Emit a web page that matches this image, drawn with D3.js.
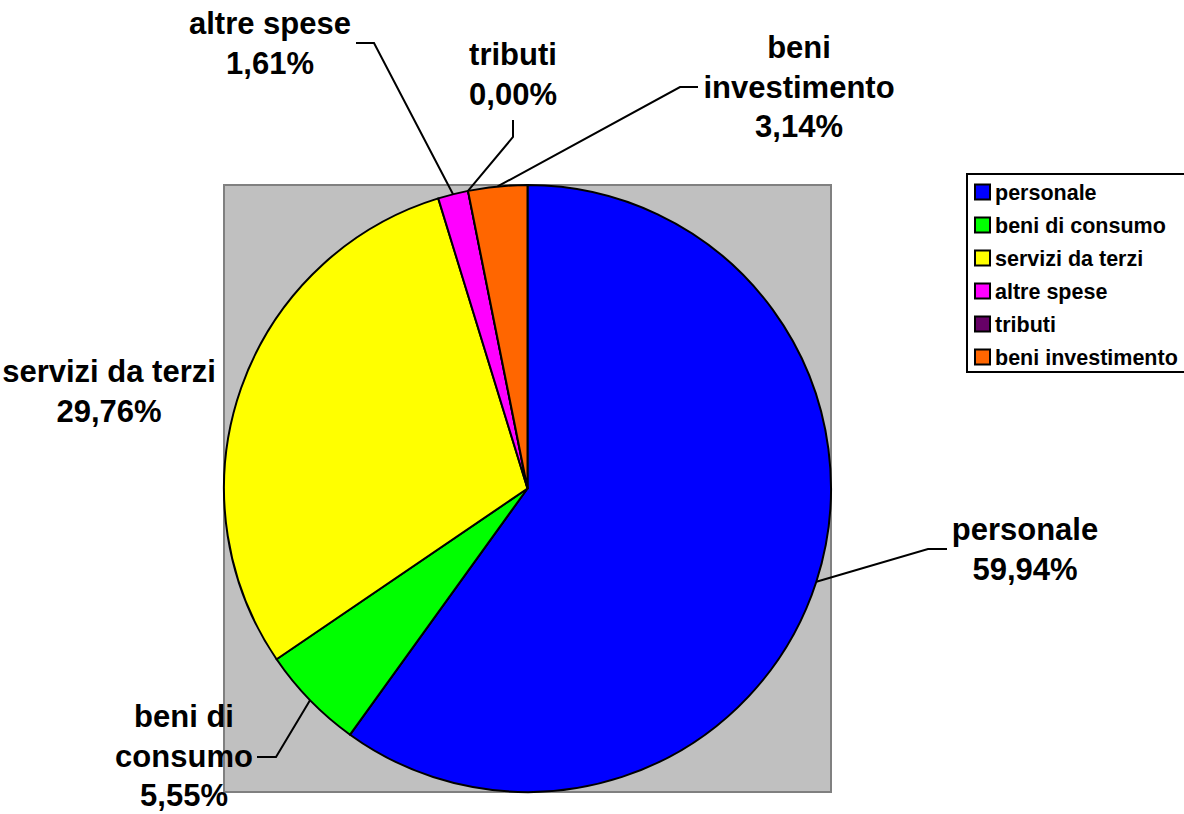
<!DOCTYPE html>
<html>
<head>
<meta charset="utf-8">
<script src="https://cdn.jsdelivr.net/npm/d3@7"></script>
<style>
  body { margin: 0; background: #fff; }
  svg { display: block; }
  text { font-family: "Liberation Sans", Arial, sans-serif; font-weight: 700; }
</style>
</head>
<body>
<div id="chart"></div>
<script>
// data
const CATEGORIES = ["personale", "beni di consumo", "servizi da terzi", "altre spese", "tributi", "beni investimento"];
const VALUES = [59.94, 5.55, 29.76, 1.61, 0.00, 3.14];
const COLORS = ["#0000FF", "#00FF00", "#FFFF00", "#FF00FF", "#660066", "#FF6600"];
const LABEL_LINES = [["personale"], ["beni di", "consumo"], ["servizi da terzi"], ["altre spese"], ["tributi"], ["beni", "investimento"]];

// frame
const FRAME_WIDTH = 1184;
const FRAME_HEIGHT = 814;
const PLOT = {left: 224, top: 185, width: 607, height: 607};
const CX = PLOT.left + PLOT.width / 2;
const CY = PLOT.top + PLOT.height / 2;
const RADIUS = 303.5;

// label anchors: center x, first baseline y, leader [pts] (end on pie is computed)
const LABEL_POS = [
  {x: 1025, y: 540, leader: [[947, 549], [928, 549]]},
  {x: 184, y: 727, leader: [[257, 757], [276, 757]]},
  {x: 109, y: 382, leader: null},
  {x: 270, y: 34, leader: [[356, 43], [374, 43]]},
  {x: 513, y: 65, leader: [[513, 120], [513, 137]]},
  {x: 799, y: 58, leader: [[698, 87], [680, 87]]}
];
const LINE_H = 39.5;

const FRAME = d3.select("#chart")
  .append("svg")
    .attr("width", FRAME_WIDTH)
    .attr("height", FRAME_HEIGHT);

// grey plot area
FRAME.append("rect")
  .attr("x", PLOT.left)
  .attr("y", PLOT.top)
  .attr("width", PLOT.width)
  .attr("height", PLOT.height)
  .attr("fill", "#C0C0C0")
  .attr("stroke", "#808080")
  .attr("stroke-width", 2);

const data = CATEGORIES.map((c, i) => ({name: c, value: VALUES[i], color: COLORS[i], lines: LABEL_LINES[i], pos: LABEL_POS[i]}));

const pie = d3.pie().sort(null).value(d => d.value);
const arc = d3.arc().innerRadius(0).outerRadius(RADIUS);
const arcs = pie(data);

const g = FRAME.append("g").attr("transform", "translate(" + CX + "," + CY + ")");

g.selectAll("path.slice")
  .data(arcs)
  .enter()
  .append("path")
    .attr("class", "slice")
    .attr("d", arc)
    .attr("fill", d => d.data.color)
    .attr("stroke", "#000")
    .attr("stroke-width", 2)
    .attr("stroke-linejoin", "round");

// leader lines
arcs.forEach((a) => {
  const p = a.data.pos;
  if (!p.leader) return;
  const mid = (a.startAngle + a.endAngle) / 2;
  const edge = [CX + RADIUS * Math.sin(mid), CY - RADIUS * Math.cos(mid)];
  const pts = p.leader.concat([edge]);
  FRAME.append("path")
    .attr("d", d3.line()(pts))
    .attr("fill", "none")
    .attr("stroke", "#000")
    .attr("stroke-width", 2);
});

// data labels
const fmt = v => v.toFixed(2).replace(".", ",") + "%";
arcs.forEach((a) => {
  const p = a.data.pos;
  const lines = a.data.lines.concat([fmt(a.data.value)]);
  const t = FRAME.append("text")
    .attr("text-anchor", "middle")
    .attr("font-family", "Liberation Sans, Arial, sans-serif")
    .attr("font-weight", "bold")
    .attr("font-size", "31px")
    .attr("fill", "#000");
  lines.forEach((l, i) => {
    t.append("tspan")
      .attr("x", p.x)
      .attr("y", p.y + i * LINE_H)
      .text(l);
  });
});

// legend
const LEGEND = {x: 967, y: 174, width: 222, height: 198};
FRAME.append("rect")
  .attr("x", LEGEND.x)
  .attr("y", LEGEND.y)
  .attr("width", LEGEND.width)
  .attr("height", LEGEND.height)
  .attr("fill", "#fff")
  .attr("stroke", "#000")
  .attr("stroke-width", 2);

const rowY = d3.scaleBand()
  .domain(CATEGORIES)
  .range([LEGEND.y + 2, LEGEND.y + LEGEND.height + 2]);

const rows = FRAME.selectAll("g.leg")
  .data(data)
  .enter()
  .append("g")
    .attr("class", "leg")
    .attr("transform", d => "translate(0," + (rowY(d.name) + rowY.bandwidth() / 2) + ")");

rows.append("rect")
  .attr("x", 975)
  .attr("y", -8)
  .attr("width", 15)
  .attr("height", 15)
  .attr("fill", d => d.color)
  .attr("stroke", "#000")
  .attr("stroke-width", 2);

rows.append("text")
  .attr("x", 995)
  .attr("y", 7)
  .attr("font-family", "Liberation Sans, Arial, sans-serif")
  .attr("font-weight", "bold")
  .attr("font-size", "21.5px")
  .attr("fill", "#000")
  .text(d => d.name);
</script>
</body>
</html>
